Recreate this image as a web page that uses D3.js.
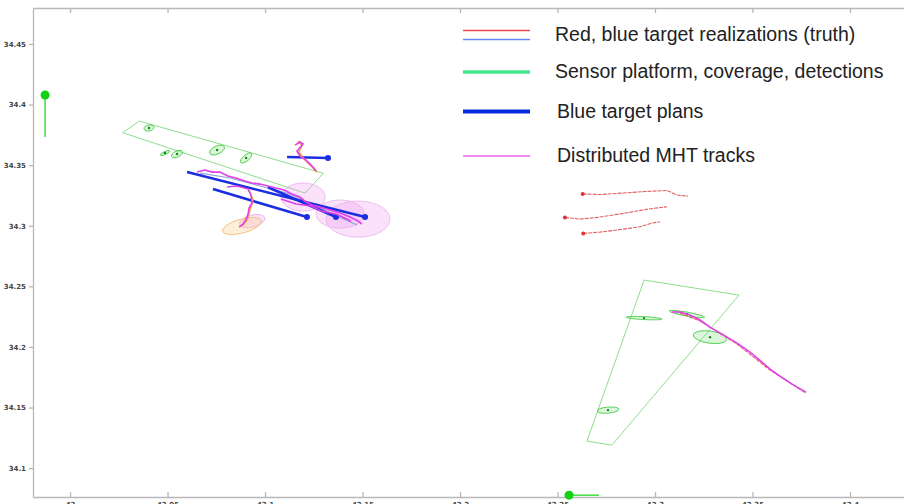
<!DOCTYPE html>
<html>
<head>
<meta charset="utf-8">
<script src="https://cdn.jsdelivr.net/npm/d3@7"></script>
<style>
  body { margin: 0; background: #fff; }
  .axis text { font-family: "DejaVu Sans", sans-serif; font-size: 7px; font-weight: bold; fill: #444; }
  .axis path, .axis line { stroke: #b8b8b8; stroke-width: 1.3; }
  .legend text { font-family: "Liberation Sans", Arial, sans-serif; font-size: 19.5px; fill: #222; }
</style>
</head>
<body>
<div id="chart"></div>
<script>
//tick values
var xTicks = [42, 42.05, 42.1, 42.15, 42.2, 42.25, 42.3, 42.35, 42.4];
var yTicks = [34.1, 34.15, 34.2, 34.25, 34.3, 34.35, 34.4, 34.45];

//legend entries
var legendLabels = ["Red, blue target realizations (truth)", "Sensor platform, coverage, detections", "Blue target plans", "Distributed MHT tracks"];

//sensor platforms [lon, lat] and heading line end
var sensors = [
  {pos: [41.9872, 34.4079], end: [41.9872, 34.3732]},
  {pos: [42.2559, 34.0777], end: [42.2713, 34.0777]}
];

//sensor coverage polygons
var coverageNW = [[42.0270, 34.3768], [42.0355, 34.3864], [42.1299, 34.3433], [42.1205, 34.3270]];
var coverageSE = [[42.2944, 34.2552], [42.3431, 34.2428], [42.2779, 34.1190], [42.2651, 34.1223]];

//detections: center lon, lat, semi axes (deg), angle
var detections = [
  [42.0405, 34.3807, 0.0026, 0.0025, -10],
  [42.0487, 34.3600, 0.0026, 0.0012, -25],
  [42.0549, 34.3592, 0.0031, 0.0025, -25],
  [42.0754, 34.3625, 0.0041, 0.0033, -25],
  [42.0903, 34.3559, 0.0036, 0.0025, -40],
  [42.2944, 34.2238, 0.0092, 0.0012, 3],
  [42.3164, 34.2271, 0.0092, 0.0016, 10],
  [42.3282, 34.2081, 0.0087, 0.0050, 8],
  [42.2759, 34.1479, 0.0056, 0.0025, -5]
];

//track uncertainty ellipses
var trackEllipses = [
  [42.1195, 34.3237, 0.0113, 0.0116, 0],
  [42.1385, 34.3097, 0.0123, 0.0116, 0],
  [42.1477, 34.3055, 0.0164, 0.0149, 0],
  [42.0934, 34.3038, 0.0067, 0.0050, -15]
];
var orangeEllipses = [[42.0882, 34.2998, 0.0103, 0.0058, -15]];

//blue target plans: start, end
var plans = [
  [[42.0600, 34.3443], [42.1513, 34.3072]],
  [[42.0733, 34.3303], [42.1215, 34.3072]],
  [[42.1015, 34.3318], [42.1364, 34.3072]],
  [[42.1113, 34.3567], [42.1323, 34.3559]]
];

//red target realizations
var redTracks = [
  [[42.2629, 34.3262], [42.2718, 34.3258], [42.2836, 34.3270], [42.2949, 34.3283], [42.3062, 34.3291], [42.3113, 34.3254], [42.3169, 34.3245]],
  [[42.2538, 34.3069], [42.2615, 34.3055], [42.2718, 34.3072], [42.2856, 34.3107], [42.2964, 34.3138], [42.3062, 34.3157]],
  [[42.2632, 34.2937], [42.2718, 34.2948], [42.2805, 34.2965], [42.2923, 34.2992], [42.2985, 34.3022], [42.3026, 34.3033]],
  [[42.3103, 34.2296], [42.3231, 34.2214], [42.3421, 34.2024], [42.3590, 34.1809], [42.3774, 34.1619]]
];

//blue target realizations
var blueTruth = [
  [[42.0667, 34.3435], [42.0821, 34.3394], [42.0974, 34.3328], [42.1128, 34.3262], [42.1282, 34.3146], [42.1472, 34.3006]]
];

//distributed MHT tracks
var mhtTracks = [
  [[42.0651, 34.3443], [42.0692, 34.3460], [42.0728, 34.3443], [42.0769, 34.3443], [42.0810, 34.3410], [42.0851, 34.3394], [42.0897, 34.3369], [42.0933, 34.3353], [42.0974, 34.3344], [42.1015, 34.3328], [42.1056, 34.3311], [42.1097, 34.3295], [42.1138, 34.3262], [42.1179, 34.3237], [42.1210, 34.3196], [42.1241, 34.3171], [42.1282, 34.3154], [42.1333, 34.3130], [42.1385, 34.3105], [42.1436, 34.3072], [42.1477, 34.3039], [42.1497, 34.3014]],
  [[42.1082, 34.3221], [42.1159, 34.3179], [42.1236, 34.3163], [42.1287, 34.3122], [42.1364, 34.3097], [42.1441, 34.3039]],
  [[42.0805, 34.3320], [42.0856, 34.3328], [42.0913, 34.3303], [42.0928, 34.3254], [42.0933, 34.3188], [42.0918, 34.3146], [42.0913, 34.3097], [42.0903, 34.3055], [42.0887, 34.3014], [42.0867, 34.2989]],
  [[42.1154, 34.3666], [42.1179, 34.3691], [42.1195, 34.3675], [42.1164, 34.3617], [42.1179, 34.3575], [42.1210, 34.3542], [42.1231, 34.3509], [42.1246, 34.3485], [42.1262, 34.3452]],
  [[42.3087, 34.2288], [42.3128, 34.2288], [42.3179, 34.2263], [42.3231, 34.2222], [42.3282, 34.2164], [42.3344, 34.2106], [42.3421, 34.2032], [42.3487, 34.1957], [42.3549, 34.1875], [42.3590, 34.1817], [42.3641, 34.1759], [42.3703, 34.1693], [42.3774, 34.1627]]
];
var orangeTracks = [
  [[42.0918, 34.3295], [42.0938, 34.3213], [42.0923, 34.3130], [42.0908, 34.3047], [42.0882, 34.2998]],
  [[42.1169, 34.3699], [42.1190, 34.3666], [42.1174, 34.3608], [42.1205, 34.3542], [42.1241, 34.3485], [42.1267, 34.3443]]
];

var width = 904, height = 504;

var svg = d3.select("#chart").append("svg")
    .attr("width", width)
    .attr("height", height);

var x = d3.scaleLinear().domain([41.981, 42.4277]).range([33, 904]);
var y = d3.scaleLinear().domain([34.0762, 34.4797]).range([497, 8]);

var line = d3.line().x(d => x(d[0])).y(d => y(d[1]));

//axes
svg.append("g").attr("class", "axis")
    .attr("transform", "translate(0,497)")
    .call(d3.axisBottom(x).tickValues(xTicks).tickSize(-5).tickSizeOuter(0).tickPadding(5).tickFormat(d3.format("")));
svg.append("g").attr("class", "axis")
    .attr("transform", "translate(0,8)")
    .call(d3.axisTop(x).tickValues(xTicks).tickSize(-5).tickSizeOuter(0).tickFormat(""));
svg.append("g").attr("class", "axis")
    .attr("transform", "translate(33,0)")
    .call(d3.axisLeft(y).tickValues(yTicks).tickSize(4).tickSizeOuter(0).tickPadding(3).tickFormat(d3.format("")));

//coverage
svg.selectAll(".cov")
    .data([coverageNW, coverageSE])
    .join("path")
    .attr("d", d => line(d) + "Z")
    .attr("fill", "none")
    .attr("stroke", "#8ede8e")
    .attr("stroke-width", 1);

//ellipse helper
function ellipses(data, fill, stroke) {
  svg.append("g").selectAll("ellipse")
    .data(data)
    .join("ellipse")
    .attr("transform", d => "translate(" + x(d[0]) + "," + y(d[1]) + ") rotate(" + d[4] + ")")
    .attr("rx", d => x(d[0] + d[2]) - x(d[0]))
    .attr("ry", d => y(d[1]) - y(d[1] + d[3]))
    .attr("fill", fill)
    .attr("stroke", stroke)
    .attr("stroke-width", 0.8);
}

ellipses(trackEllipses, "rgba(236,150,236,0.28)", "#eab0ea");
ellipses(orangeEllipses, "rgba(250,205,140,0.35)", "#f2b878");
ellipses(detections, "rgba(140,225,140,0.3)", "#3cc83c");

//detection centers
svg.append("g").selectAll("circle")
    .data(detections)
    .join("circle")
    .attr("cx", d => x(d[0]))
    .attr("cy", d => y(d[1]))
    .attr("r", 1.2)
    .attr("fill", "#108a10");

//truth tracks
svg.append("g").selectAll("path")
    .data(redTracks)
    .join("path")
    .attr("d", line)
    .attr("fill", "none")
    .attr("stroke", "#e06060")
    .attr("stroke-width", 1.1)
    .attr("stroke-dasharray", "4,1");
svg.append("g").selectAll("circle")
    .data(redTracks.slice(0, 3))
    .join("circle")
    .attr("cx", d => x(d[0][0]))
    .attr("cy", d => y(d[0][1]))
    .attr("r", 2)
    .attr("fill", "#e83030");
svg.append("g").selectAll("path")
    .data(blueTruth)
    .join("path")
    .attr("d", line)
    .attr("fill", "none")
    .attr("stroke", "#90a4d8")
    .attr("stroke-width", 1.2);

//blue plans
svg.append("g").selectAll("path")
    .data(plans)
    .join("path")
    .attr("d", line)
    .attr("stroke", "#1a2ee0")
    .attr("stroke-width", 2.6);
svg.append("g").selectAll("circle")
    .data(plans)
    .join("circle")
    .attr("cx", d => x(d[1][0]))
    .attr("cy", d => y(d[1][1]))
    .attr("r", 3)
    .attr("fill", "#1a2ee0");

//orange and MHT tracks
svg.append("g").selectAll("path")
    .data(orangeTracks)
    .join("path")
    .attr("d", line)
    .attr("fill", "none")
    .attr("stroke", "#f4a448")
    .attr("stroke-width", 1.6);
svg.append("g").selectAll("path")
    .data(mhtTracks)
    .join("path")
    .attr("d", line)
    .attr("fill", "none")
    .attr("stroke", "#e040e8")
    .attr("stroke-width", 1.6);

//sensor platforms
svg.append("g").selectAll("path")
    .data(sensors)
    .join("path")
    .attr("d", d => line([d.pos, d.end]))
    .attr("stroke", "#4ee04e")
    .attr("stroke-width", 1.6);
svg.append("g").selectAll("circle")
    .data(sensors)
    .join("circle")
    .attr("cx", d => x(d.pos[0]))
    .attr("cy", d => y(d.pos[1]))
    .attr("r", 4.5)
    .attr("fill", "#12d012");

//legend
var legendStyles = [
  [{c: "#f04848", w: 1.4, dy: -4.5}, {c: "#6688f4", w: 1.6, dy: 4.5}],
  [{c: "#44e488", w: 3.6, dy: 0}],
  [{c: "#0a2ae0", w: 4, dy: 0}],
  [{c: "#f060f0", w: 1.4, dy: 0}]
];
var legendY = [35, 72, 111.5, 156];
var legendTextX = [555, 555, 557, 557];
var legend = svg.append("g").attr("class", "legend");
legendLabels.forEach(function(lbl, i) {
  legendStyles[i].forEach(function(s) {
    legend.append("line")
      .attr("x1", 463).attr("x2", 530)
      .attr("y1", legendY[i] + s.dy).attr("y2", legendY[i] + s.dy)
      .attr("stroke", s.c).attr("stroke-width", s.w);
  });
  legend.append("text")
    .attr("x", legendTextX[i])
    .attr("y", legendY[i] + 6)
    .text(lbl);
});
</script>
</body>
</html>
